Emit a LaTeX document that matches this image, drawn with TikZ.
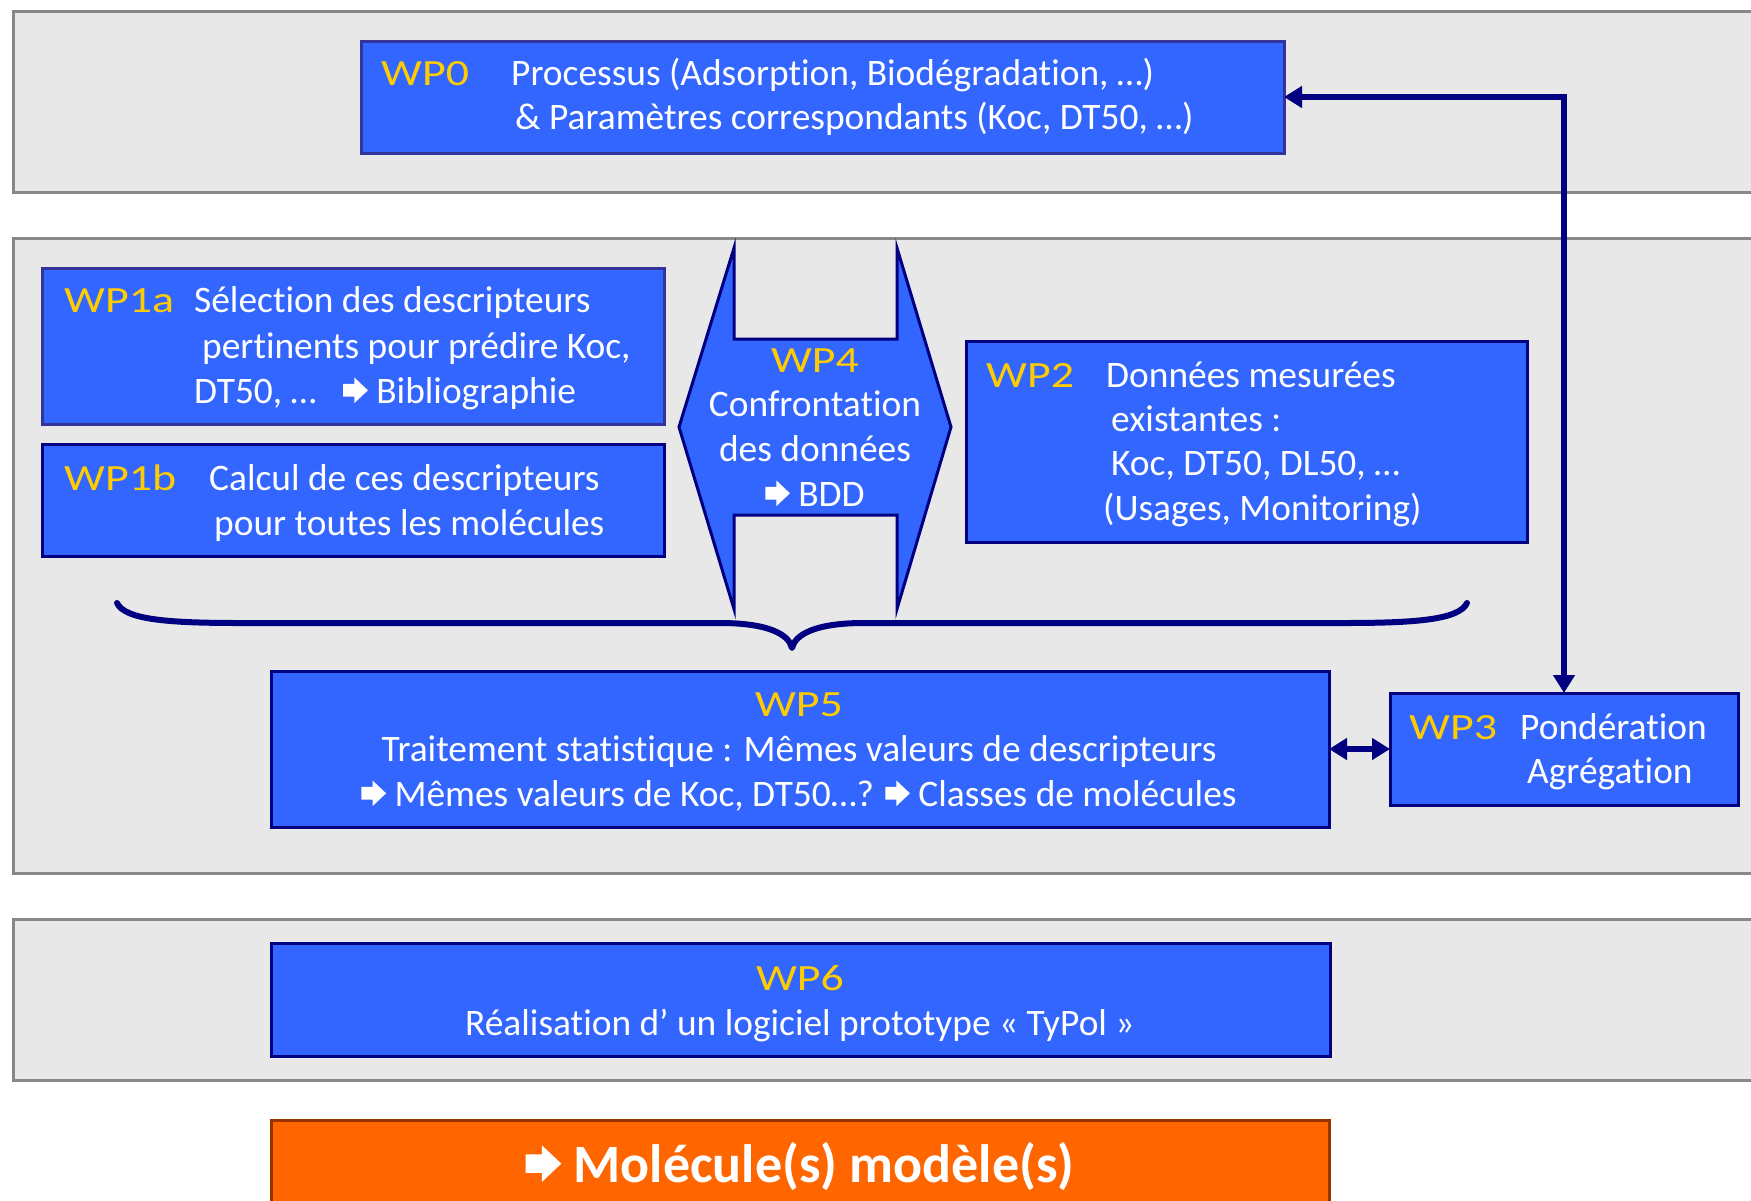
\documentclass[tikz,border=0pt]{standalone}
\usepackage{fontspec}
\setmainfont{Carlito}[Ligatures=NoCommon]
\newfontfamily\labfont{Carlito}[FakeStretch=1.24]
\usetikzlibrary{arrows.meta}

\definecolor{wpblue}{RGB}{51,102,255}
\definecolor{wpnavy}{RGB}{0,0,128}
\definecolor{wpedge}{RGB}{51,51,153}
\definecolor{wpgold}{RGB}{255,204,0}
\definecolor{panelfill}{RGB}{232,232,232}
\definecolor{paneledge}{RGB}{136,136,136}
\definecolor{wporange}{RGB}{255,102,0}
\definecolor{wporangeedge}{RGB}{153,51,0}

% block arrow used inside the texts, sized from the current font
\newcommand{\wparrow}{\tikz[baseline=0pt]\fill[white] (0em,0.17em) -- (0.3em,0.17em)
  -- (0.3em,0em) -- (0.66em,0.34em) -- (0.3em,0.68em) -- (0.3em,0.51em)
  -- (0em,0.51em) -- cycle;}

\tikzset{
  panel/.style={fill=panelfill, draw=paneledge, line width=3pt},
  box/.style={rectangle, fill=wpblue, draw=wpnavy, line width=3pt,
              inner sep=0pt, outer sep=0pt},
  txt/.style={text=white, anchor=base west, inner sep=0pt,
              font=\fontsize{37.4}{45}\selectfont},
  txtc/.style={txt, anchor=base},
  lab/.style={text=wpgold, anchor=base west, inner sep=0pt,
              font=\labfont\fontsize{37}{45}\selectfont},
  labc/.style={lab, anchor=base},
  conn/.style={draw=wpnavy, line width=6pt,
               arrows={Triangle[length=18pt,width=21pt]-Triangle[length=18pt,width=21pt]}},
  bracepath/.style={draw=wpnavy, line width=6pt, line cap=round, line join=round}
}

\begin{document}
\begin{tikzpicture}[x=1pt,y=-1pt]
\clip (0,0) rectangle (1751,1200);
\fill[white] (0,0) rectangle (1751,1200);

% background bands
\draw[panel] (13,11) rectangle (1770,192);
\draw[panel] (13,238) rectangle (1770,873);
\draw[panel] (13,919) rectangle (1770,1080);

% work package boxes
\node[box, draw=wpedge, minimum width=923pt, minimum height=112pt] (wp0) at (822.5,97) {};
\node[box, draw=wpedge, minimum width=622pt, minimum height=156pt] (wp1a) at (353,346) {};
\node[box, minimum width=622pt, minimum height=112pt] (wp1b) at (353,500) {};
\node[box, minimum width=561pt, minimum height=201pt] (wp2) at (1246.5,441.5) {};
\node[box, minimum width=1058pt, minimum height=156pt] (wp5) at (800,749) {};
\node[box, minimum width=348pt, minimum height=112pt] (wp3) at (1564,749) {};
\node[box, minimum width=1059pt, minimum height=113pt] (wp6) at (800.5,999.5) {};
\node[box, fill=wporange, draw=wporangeedge, minimum width=1058pt, minimum height=110pt] (res) at (800,1175) {};

% WP4 double-arrow shape
\draw[fill=wpblue, draw=wpnavy, line width=3pt, line join=miter]
  (734,248) -- (679,427) -- (734,609) -- (734,515) -- (897,515) -- (897,609)
  -- (951,427) -- (897,248) -- (897,339) -- (734,339) -- cycle;

% WP0 text
\node[lab] (l0) at (381,85) {WP0};
\node[txt] (t0a) at (511,85) {Processus (Adsorption, Biodégradation, …)};
\node[txt] (t0b) at (515,129) {\& Paramètres correspondants (Koc, DT50, …)};

% WP1a text
\node[lab] (l1a) at (64,312) {WP1a};
\node[txt] (t1a1) at (194,312) {Sélection des descripteurs};
\node[txt] (t1a2) at (202,358) {pertinents pour prédire Koc,};
\node[txt] (t1a3) at (194,403) {DT50, …};
\node[txt] (t1a4) at (343,403) {\wparrow\ Bibliographie};

% WP1b text
\node[lab] (l1b) at (64,490) {WP1b};
\node[txt] (t1b1) at (209,490) {Calcul de ces descripteurs};
\node[txt] (t1b2) at (214,535) {pour toutes les molécules};

% WP4 text
\node[labc] (l4) at (815,372) {WP4};
\node[txtc] (t4a) at (815,416) {Confrontation};
\node[txtc] (t4b) at (815,461) {des données};
\node[txtc] (t4c) at (815,506) {\wparrow\ BDD};

% WP2 text
\node[lab] (l2) at (986,387) {WP2};
\node[txt] (t2a) at (1106,387) {Données mesurées};
\node[txt] (t2b) at (1111,431) {existantes :};
\node[txt] (t2c) at (1111,475) {Koc, DT50, DL50, …};
\node[txt] (t2d) at (1103,520) {(Usages, Monitoring)};

% WP5 text
\node[labc] (l5) at (799,716) {WP5};
\node[txtc] (t5a) at (799,761) {Traitement statistique : Mêmes valeurs de descripteurs};
\node[txtc] (t5b) at (799,806) {\wparrow\ Mêmes valeurs de Koc, DT50…? \wparrow\ Classes de molécules};

% WP3 text
\node[lab] (l3) at (1409,739) {WP3};
\node[txt] (t3a) at (1520,739) {Pondération};
\node[txt] (t3b) at (1527,783) {Agrégation};

% WP6 text
\node[labc] (l6) at (800,990) {WP6};
\node[txtc] (t6) at (800,1035) {Réalisation d’ un logiciel prototype « TyPol »};

% result
\node[text=white, anchor=base, inner sep=0pt, font=\bfseries\fontsize{54}{60}\selectfont] (tres) at (800,1182) {\wparrow\ Molécule(s) modèle(s)};

% brace gathering WP1a, WP1b, WP4, WP2
\draw[bracepath] (117,603) .. controls (125,620) and (170,623) .. (240,623) -- (720,623)
  .. controls (770,623) and (789,635) .. (792,648)
  .. controls (795,635) and (814,623) .. (864,623) -- (1344,623)
  .. controls (1414,623) and (1459,620) .. (1467,603);

% connectors
\draw[conn] (wp0.east) -| (wp3.north);
\draw[conn] (wp5.east) -- (wp3.west);
\end{tikzpicture}
\end{document}
